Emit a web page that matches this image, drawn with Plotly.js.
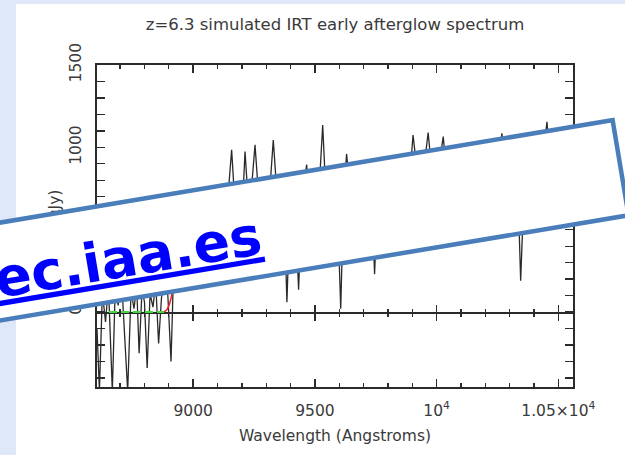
<!DOCTYPE html>
<html>
<head>
<meta charset="utf-8">
<script src="https://cdn.plot.ly/plotly-3.0.1.min.js"></script>
<style>
html,body{margin:0;padding:0;width:625px;height:455px;overflow:hidden;background:#dfe8f8;}
#sheet{position:absolute;left:16px;top:4px;width:609px;height:451px;background:#ffffff;}
#chart{position:absolute;left:0;top:0;width:625px;height:455px;}
</style>
</head>
<body>
<div id="sheet"></div>
<div id="chart"></div>
<script>
// ---- data ----
const wavelength = [8605,8615,8627,8640,8652,8668,8680,8692,8705,8717,
  8731,8745,8757,8768,8778,8790,8800,8811,8823,8835,
  8846,8858,8870,8884,8896,8909,8922,8936,8950,8965,
  8980,8995,9010,9025,9040,9055,9070,9085,9100,9115,
  9130,9145,9158,9172,9186,9200,9213,9227,9240,9254,
  9268,9282,9296,9310,9329,9345,9360,9372,9385,9398,
  9410,9422,9433,9446,9456,9466,9478,9490,9505,9520,
  9532,9545,9560,9575,9590,9606,9618,9630,9645,9660,
  9675,9690,9705,9720,9733,9745,9758,9772,9788,9805,
  9822,9838,9855,9872,9888,9903,9918,9935,9950,9965,
  9980,9996,10011,10027,10042,10058,10074,10090,10106,10122,
  10138,10154,10170,10186,10202,10218,10235,10251,10268,10284,
  10300,10316,10333,10345,10360,10376,10392,10408,10424,10440,
  10453,10468,10484,10500,10516,10532,10548,10560];
const flux = [-100,-480,120,-60,160,-480,150,40,220,-120,
  -480,130,20,160,-250,140,60,-340,110,30,
  180,-190,90,210,100,-300,380,650,690,560,
  700,640,710,600,720,700,540,730,660,740,
  600,740,985,640,720,560,975,650,760,1015,
  720,600,780,640,1045,700,560,720,60,640,
  760,520,135,660,780,895,640,760,700,820,
  1135,720,800,640,760,20,700,960,740,640,
  800,700,820,660,760,230,720,860,700,880,
  760,900,720,860,780,1075,880,820,900,1090,
  860,840,900,1065,820,880,760,920,800,940,
  760,880,960,800,900,780,960,840,1085,860,
  760,920,800,190,780,940,820,880,760,980,
  1155,860,940,800,960,860,920,880];
const modelWavelength = [8880,8893,8902,8910,8920,8935,8955,8980,9020,9200,9600,10000,10560];
const modelFlux = [0,15,45,90,170,300,440,560,640,690,690,680,670];
const floorWavelength = [8605,8880];
const floorFlux = [0,0];
const xTickVals = [9000,9500,10000,10500];
const xTickText = ['9000','9500','10<sup>4</sup>','1.05×10<sup>4</sup>'];
const yTickVals = [0,500,1000,1500];
const yTickText = ['0','500','1000','1500'];
const xRange = [8605,10560];
const yRange = [-455,1500];
const titleText = 'z=6.3 simulated IRT early afterglow spectrum';
const xTitleText = 'Wavelength (Angstroms)';
const yTitleText = 'Flux (μJy)';
const linkText = 'ec.iaa.es';

// ---- styling ----
const ink = '#2b2b2b';
const textInk = '#3a3a3a';
const fam = 'DejaVu Sans, sans-serif';
const zeroPos = (0 - yRange[0]) / (yRange[1] - yRange[0]);

const traces = [
  {x: wavelength, y: flux, type:'scatter', mode:'lines', line:{color:'#2a2a2a', width:1.3}, xaxis:'x', yaxis:'y', hoverinfo:'skip'},
  {x: floorWavelength, y: floorFlux, type:'scatter', mode:'lines', line:{color:'#3fd83f', width:2, dash:'8px,4px'}, xaxis:'x2', yaxis:'y', hoverinfo:'skip'},
  {x: modelWavelength, y: modelFlux, type:'scatter', mode:'lines', line:{color:'#ee2222', width:1.5}, xaxis:'x3', yaxis:'y', hoverinfo:'skip'}
];

const minorX = {ticks:'inside', tickmode:'linear', tick0:0, dtick:100, ticklen:4, tickwidth:1.3, tickcolor:ink, showgrid:false};

const layout = {
  width:625, height:455,
  margin:{l:97, r:52, t:65, b:68, pad:0},
  paper_bgcolor:'rgba(0,0,0,0)', plot_bgcolor:'#ffffff',
  showlegend:false,
  title:{text:titleText, font:{family:fam, size:16.5, color:textInk}, x:0.5, xref:'paper', xanchor:'center', y:1-24/455, yref:'container', yanchor:'middle'},
  xaxis:{
    range:xRange, showline:true, linecolor:ink, linewidth:2, mirror:'allticks',
    ticks:'inside', ticklen:8, tickwidth:1.5, tickcolor:ink,
    tickmode:'array', tickvals:xTickVals, ticktext:xTickText,
    minor:minorX, showgrid:false, zeroline:false, ticklabelstandoff:8,
    tickfont:{family:fam, size:15.5, color:textInk},
    title:{text:xTitleText, font:{family:fam, size:15.5, color:textInk}, standoff:12}
  },
  xaxis2:{
    overlaying:'x', anchor:'free', position:zeroPos, side:'bottom', range:xRange,
    showline:true, linecolor:ink, linewidth:1.6, layer:'below traces',
    ticks:'outside', ticklen:7, tickwidth:1.5, tickcolor:ink,
    tickmode:'array', tickvals:xTickVals, showticklabels:false,
    minor:{ticks:'outside', tickmode:'linear', tick0:0, dtick:100, ticklen:3.5, tickwidth:1.3, tickcolor:ink, showgrid:false},
    showgrid:false, zeroline:false
  },
  xaxis3:{
    overlaying:'x', anchor:'free', position:zeroPos, side:'bottom', range:xRange,
    showline:false, layer:'below traces',
    ticks:'inside', ticklen:7, tickwidth:1.5, tickcolor:ink,
    tickmode:'array', tickvals:xTickVals, showticklabels:false,
    minor:{ticks:'inside', tickmode:'linear', tick0:0, dtick:100, ticklen:3.5, tickwidth:1.3, tickcolor:ink, showgrid:false},
    showgrid:false, zeroline:false
  },
  yaxis:{
    range:yRange, showline:true, linecolor:ink, linewidth:2, mirror:'allticks',
    ticks:'inside', ticklen:8, tickwidth:1.5, tickcolor:ink,
    tickmode:'array', tickvals:yTickVals, ticktext:yTickText, tickangle:-90,
    minor:{ticks:'inside', tickmode:'linear', tick0:0, dtick:100, ticklen:4, tickwidth:1.3, tickcolor:ink, showgrid:false},
    showgrid:false, zeroline:false, ticklabelstandoff:8,
    tickfont:{family:fam, size:15.5, color:textInk},
    title:{text:yTitleText, font:{family:fam, size:15.5, color:textInk}, standoff:2}
  },
  annotations:[
    {xref:'paper', yref:'paper', x:0.3113, y:0.487, xanchor:'center', yanchor:'middle',
     text:' ', showarrow:false, width:755.5, height:92.2, bgcolor:'#ffffff',
     bordercolor:'#4a7ebb', borderwidth:4.5, borderpad:0, textangle:-9.5},
    {xref:'paper', yref:'paper', x:0.0653, y:0.4025, xanchor:'center', yanchor:'middle',
     text:'<span style="text-decoration:underline">'+linkText+'</span>', showarrow:false,
     font:{family:fam, size:54, color:'#0000ff', weight:'bold'}, textangle:-9.5, borderpad:0}
  ]
};

Plotly.newPlot('chart', traces, layout, {staticPlot:true, displayModeBar:false});
</script>
</body>
</html>
